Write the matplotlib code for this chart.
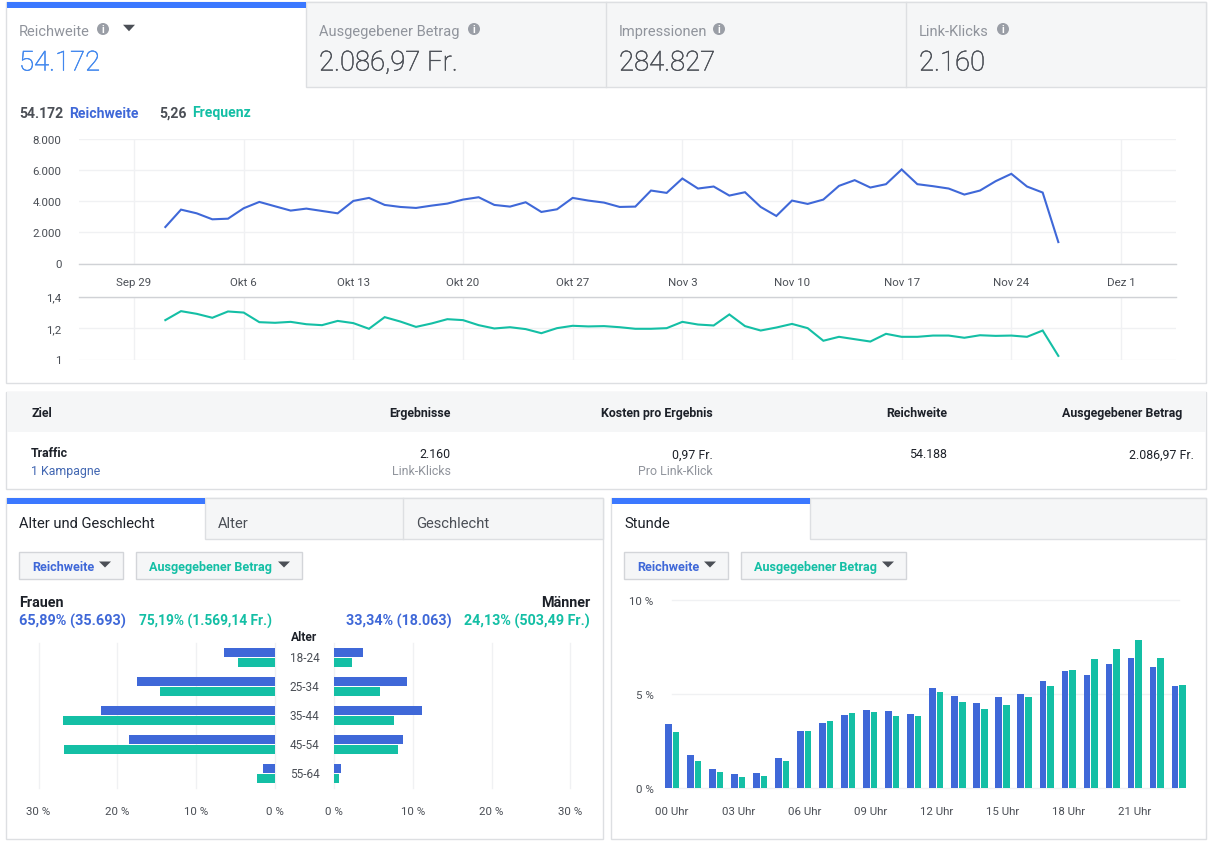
import numpy as np
import pandas as pd
import matplotlib
matplotlib.use("Agg")
import matplotlib.pyplot as plt
import matplotlib.patheffects as pe
from matplotlib.patches import Rectangle, Circle, Polygon

plt.rcParams['font.family'] = ['Roboto', 'DejaVu Sans']

W, H = 1212, 845
BLUE = '#3f68d8'
TEAL = '#14bfa5'
ACCENT = '#3b78ff'
GRAY = '#90949c'
DARK = '#4b4f56'
BORDER = '#dddfe2'
TABBG = '#f5f6f7'
GRID = '#f0f1f3'
AXISC = '#d0d2d6'
INK = '#1d2129'

# ---- data ----
dates = pd.date_range('2018-10-01', '2018-11-27')
reach = [2344, 3462, 3225, 2840, 2880, 3550, 3957, 3677, 3400, 3527, 3376, 3225, 4021, 4215,
         3763, 3634, 3570, 3720, 3850, 4107, 4258, 3763, 3656, 3935, 3312, 3484, 4215, 4043,
         3914, 3634, 3656, 4688, 4537, 5462, 4817, 4946, 4365, 4580, 3634, 3054, 4043, 3828,
         4107, 4989, 5355, 4882, 5097, 6043, 5097, 4968, 4817, 4430, 4688, 5290, 5763, 4946,
         4559, 1376]
freq = [1.250, 1.307, 1.290, 1.265, 1.305, 1.298, 1.237, 1.233, 1.239, 1.224, 1.218, 1.245,
        1.231, 1.195, 1.269, 1.241, 1.207, 1.229, 1.256, 1.250, 1.218, 1.197, 1.205, 1.193,
        1.167, 1.199, 1.214, 1.210, 1.212, 1.205, 1.195, 1.195, 1.199, 1.239, 1.222, 1.216,
        1.286, 1.212, 1.184, 1.203, 1.226, 1.199, 1.119, 1.144, 1.129, 1.114, 1.163, 1.144,
        1.144, 1.152, 1.152, 1.138, 1.154, 1.150, 1.152, 1.144, 1.184, 1.023]
week_ticks = pd.date_range('2018-09-29', '2018-12-01', freq='7D')
week_labels = ['Sep 29', 'Okt 6', 'Okt 13', 'Okt 20', 'Okt 27', 'Nov 3', 'Nov 10', 'Nov 17', 'Nov 24', 'Dez 1']
reach_ticks = [0, 2000, 4000, 6000, 8000]
reach_tick_labels = ['0', '2.000', '4.000', '6.000', '8.000']
freq_ticks = [1, 1.2, 1.4]
freq_tick_labels = ['1', '1,2', '1,4']

ages = ['18-24', '25-34', '35-44', '45-54', '55-64']
women_reach = [6.4, 17.5, 22.0, 18.5, 1.5]
women_spend = [4.6, 14.6, 26.9, 26.8, 2.2]
men_reach = [3.66, 9.2, 11.2, 8.8, 0.84]
men_spend = [2.3, 5.8, 7.6, 8.05, 0.64]
pct_ticks = [0, 10, 20, 30]

hours = list(range(24))
hour_reach = [3.40, 1.73, 1.00, 0.71, 0.78, 1.58, 3.02, 3.47, 3.88, 4.15, 4.09, 3.93,
              5.32, 4.88, 4.50, 4.82, 4.98, 5.69, 6.23, 6.01, 6.58, 6.92, 6.42, 5.43]
hour_spend = [2.95, 1.42, 0.82, 0.57, 0.62, 1.42, 3.04, 3.54, 3.99, 4.02, 3.84, 3.83,
              5.12, 4.57, 4.20, 4.41, 4.84, 5.43, 6.28, 6.85, 7.42, 7.88, 6.92, 5.48]
hour_ticks = [0, 3, 6, 9, 12, 15, 18, 21]
hour_labels = ['00 Uhr', '03 Uhr', '06 Uhr', '09 Uhr', '12 Uhr', '15 Uhr', '18 Uhr', '21 Uhr']
hour_pct_ticks = [0, 5, 10]

# ---- figure + pixel overlay ----
fig = plt.figure(figsize=(W / 100, H / 100), dpi=100, facecolor='white')
bg = fig.add_axes([0, 0, 1, 1], zorder=0)
bg.set_xlim(0, W); bg.set_ylim(H, 0); bg.axis('off')
over = fig.add_axes([0, 0, 1, 1], zorder=5)
over.set_xlim(0, W); over.set_ylim(H, 0); over.axis('off'); over.patch.set_alpha(0)


def px(size):
    return size * 0.72


def rect(x0, y0, x1, y1, fc='none', ec='none', lw=1, ax=bg, z=1):
    if ec != 'none':
        x0, x1 = x0 - .5, x1 - .5
    ax.add_patch(Rectangle((x0, y0), x1 - x0, y1 - y0, fc=fc, ec=ec, lw=lw, zorder=z))


def txt(x, y, s, size, color=INK, ha='left', weight='normal', ax=over):
    return ax.text(x, y + 1, s, fontsize=px(size), color=color, ha=ha, va='center', fontweight=weight)


def bignum(x, y, s, color):
    t = txt(x, y, s, 27.5, color=color, weight='light')
    t.set_path_effects([pe.withStroke(linewidth=0.35, foreground=color)])


def info(x, y):
    over.add_patch(Circle((x, y), 6, fc='#9a9ea6', ec='none'))
    over.text(x, y + 0.2, 'i', fontsize=px(10.5), color='white', ha='center', va='center', fontweight='bold')


def caret(x, y, w=12, h=6, c='#4b4f56'):
    over.add_patch(Polygon([(x - w / 2, y - h / 2), (x + w / 2, y - h / 2), (x, y + h / 2)], fc=c, ec='none'))


def axes_px(x0, y0, x1, y1):
    a = fig.add_axes([x0 / W, 1 - y1 / H, (x1 - x0) / W, (y1 - y0) / H], zorder=2)
    a.patch.set_alpha(0)
    for s in a.spines.values():
        s.set_visible(False)
    return a


def unclip_grid(a):
    for gl in a.get_xgridlines() + a.get_ygridlines():
        gl.set_clip_on(False)


def button(x0, x1, label, color, caret_x):
    rect(x0 + .5, 552.5, x1 - .5, 579.5, fc=TABBG, ec='#d3d5d9', lw=1, z=2)
    txt(x0 + 13, 567, label, 12.6, color=color, weight='bold')
    caret(caret_x, 565.5, w=12, h=6)


# ---- top card ----
rect(6.5, 2.5, 1206.5, 383.5, fc='white', ec=BORDER, lw=1)
rect(306.5, 3, 1206, 87.5, fc=TABBG, ec=BORDER, lw=1, z=2)
for xs in (606, 906):
    bg.plot([xs, xs], [3, 87.5], color=BORDER, lw=1, zorder=3)
rect(7, 3, 306, 9, fc=ACCENT, z=3)
txt(19, 31, 'Reichweite', 14.6, color=GRAY)
info(103, 30)
caret(129, 29, w=12, h=6.5)
bignum(19, 63, '54.172', '#3f86ee')
for x, label, value, ix in [(319, 'Ausgegebener Betrag', '2.086,97 Fr.', 474),
                            (619, 'Impressionen', '284.827', 719),
                            (919, 'Link-Klicks', '2.160', 1003)]:
    txt(x, 31, label, 14.6, color=GRAY)
    info(ix, 30)
    bignum(x, 63, value, DARK)

txt(19, 112.5, '54.172', 14, color=DARK, weight='bold')
txt(69, 112.5, 'Reichweite', 14, color=BLUE, weight='bold')
txt(159, 112.5, '5,26', 14, color=DARK, weight='bold')
txt(192, 112.5, 'Frequenz', 14, color=TEAL, weight='bold')

# date scale shared by both line charts: Sep 29 at 134 px, Dez 1 at 1121 px
day_px = (1121 - 134) / 63
xmin = week_ticks[0] - pd.Timedelta(days=(134 - 79) / day_px)
xmax = week_ticks[0] + pd.Timedelta(days=(1176 - 134) / day_px)

ax1 = axes_px(79, 140, 1176, 264.5)
ax1.set_xlim(xmin, xmax); ax1.set_ylim(0, 8000)
ax1.plot(dates, reach, color=BLUE, lw=1.5, solid_joinstyle='miter', zorder=3)
ax1.set_yticks(reach_ticks, reach_tick_labels)
ax1.set_xticks(week_ticks, week_labels)
ax1.tick_params(length=0, labelsize=px(11.5), labelcolor=DARK)
ax1.tick_params(axis='y', pad=12.5)
ax1.tick_params(axis='x', pad=9.5)
ax1.grid(True, color=GRID, lw=1)
ax1.set_axisbelow(True)
ax1.spines['bottom'].set_visible(True)
ax1.spines['bottom'].set_color(AXISC)
ax1.spines['bottom'].set_linewidth(1)

ax2 = axes_px(79, 297.5, 1176, 360.5)
ax2.set_xlim(xmin, xmax); ax2.set_ylim(1, 1.4)
ax2.plot(dates, freq, color=TEAL, lw=1.5, solid_joinstyle='miter', zorder=3)
ax2.set_yticks(freq_ticks, freq_tick_labels)
ax2.set_xticks(week_ticks, [''] * len(week_ticks))
ax2.tick_params(length=0, labelsize=px(11.5), labelcolor=DARK)
ax2.tick_params(axis='y', pad=12.5)
ax2.grid(True, color=GRID, lw=1)
ax2.set_axisbelow(True)
ax2.spines['top'].set_visible(True)
ax2.spines['top'].set_color(AXISC)
ax2.spines['top'].set_linewidth(1)

# ---- table card ----
rect(6.5, 392.5, 1206.5, 489.5, fc='white', ec=BORDER, lw=1)
rect(7, 393, 1206, 433, fc=TABBG, z=2)
txt(31, 413, 'Ziel', 12.4, color=INK, weight='bold')
for x, s in [(451, 'Ergebnisse'), (713, 'Kosten pro Ergebnis'), (947, 'Reichweite'), (1182, 'Ausgegebener Betrag')]:
    txt(x, 413, s, 12.4, color=INK, ha='right', weight='bold')
txt(31, 453, 'Traffic', 12.4, color=INK, weight='bold')
txt(31, 471, '1 Kampagne', 12.4, color='#4267b2')
txt(451, 454, '2.160', 12.4, color=INK, ha='right')
txt(451, 471, 'Link-Klicks', 12.4, color=GRAY, ha='right')
txt(713, 454, '0,97 Fr.', 12.4, color=INK, ha='right')
txt(713, 471, 'Pro Link-Klick', 12.4, color=GRAY, ha='right')
txt(947, 454, '54.188', 12.4, color=INK, ha='right')
txt(1194, 454, '2.086,97 Fr.', 12.4, color=INK, ha='right')

# ---- age & gender card ----
rect(6.5, 498.5, 603.5, 839.5, fc='white', ec=BORDER, lw=1)
rect(205.5, 499, 603, 539.5, fc=TABBG, ec=BORDER, lw=1, z=2)
bg.plot([403, 403], [499, 539.5], color=BORDER, lw=1, zorder=3)
rect(7, 499, 205, 505, fc=ACCENT, z=3)
txt(19, 523, 'Alter und Geschlecht', 14.8, color=INK)
txt(218, 523, 'Alter', 14.8, color=DARK)
txt(416, 523, 'Geschlecht', 14.8, color=DARK)
button(19, 124, 'Reichweite', BLUE, 105)
button(136, 303, 'Ausgegebener Betrag', TEAL, 284)
txt(19, 602, 'Frauen', 14.4, color=INK, weight='bold')
txt(590, 602, 'Männer', 14.4, color=INK, ha='right', weight='bold')
txt(19, 620, '65,89% (35.693)', 14.5, color=BLUE, weight='bold')
txt(139, 620, '75,19% (1.569,14 Fr.)', 13.8, color=TEAL, weight='bold')
txt(346, 620, '33,34% (18.063)', 14.2, color=BLUE, weight='bold')
txt(590, 620, '24,13% (503,49 Fr.)', 14.3, color=TEAL, ha='right', weight='bold')
txt(304.5, 637, 'Alter', 12, color=INK, ha='center', weight='bold')

ypos = np.arange(len(ages))
for (x0, x1, rv, sv, side) in [(38.5, 274.7, women_reach, women_spend, 'w'),
                               (334.2, 570.4, men_reach, men_spend, 'm')]:
    a = axes_px(x0, 644, x1, 789)
    a.set_xlim(*((30, 0) if side == 'w' else (0, 30)))
    a.set_ylim(len(ages) - .5, -.5)
    a.barh(ypos - .17, rv, height=.335, color=BLUE, edgecolor='none', zorder=3)
    a.barh(ypos + .17, sv, height=.335, color=TEAL, edgecolor='none', zorder=3)
    a.set_xticks(pct_ticks, [f'{t} %' for t in pct_ticks])
    a.set_yticks([])
    a.tick_params(length=0, labelsize=px(11.5), labelcolor=DARK, pad=13)
    a.grid(True, axis='x', color=GRID, lw=1)
    a.set_axisbelow(True)
    unclip_grid(a)
for i, age in enumerate(ages):
    txt(304.5, 658 + i * 29, age, 11.8, color=DARK, ha='center')

# ---- hour card ----
rect(611.5, 498.5, 1206.5, 839.5, fc='white', ec=BORDER, lw=1)
rect(810.5, 499, 1206, 539.5, fc=TABBG, ec=BORDER, lw=1, z=2)
rect(612, 499, 810, 505, fc=ACCENT, z=3)
txt(624, 523, 'Stunde', 14.8, color=INK)
button(624, 729, 'Reichweite', BLUE, 710)
button(741, 907, 'Ausgegebener Betrag', TEAL, 888)

ax3 = axes_px(671.7, 601.3, 1178.7, 788.7)
ax3.set_xlim(-0.02, 23)
ax3.set_ylim(0, 10)
h = np.array(hours)
ax3.bar(h - .17, hour_reach, width=.30, color=BLUE, edgecolor='none', zorder=3, clip_on=False)
ax3.bar(h + .17, hour_spend, width=.30, color=TEAL, edgecolor='none', zorder=3, clip_on=False)
ax3.set_xticks(hour_ticks, hour_labels)
ax3.set_yticks(hour_pct_ticks, [f'{t} %' for t in hour_pct_ticks])
ax3.tick_params(length=0, labelsize=px(11.5), labelcolor=DARK)
ax3.tick_params(axis='x', pad=13)
ax3.tick_params(axis='y', pad=13)
ax3.grid(True, axis='y', color=GRID, lw=1)
ax3.set_axisbelow(True)
unclip_grid(ax3)

fig.savefig('out.png', dpi=100, facecolor='white')
